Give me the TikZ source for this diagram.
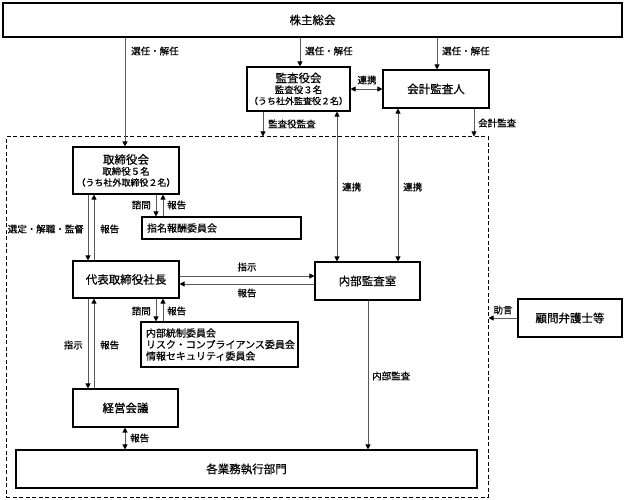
\documentclass[tikz,border=0pt]{standalone}
\usepackage{fontspec}
\setmainfont[FakeBold=0.6]{Noto Sans CJK JP}
\usetikzlibrary{arrows.meta}
\begin{document}
\begin{tikzpicture}[x=1pt,y=-1pt,
  box/.style={draw=black,line width=1.1pt,inner sep=0pt,align=center,font=\fontsize{11.5}{13}\selectfont},
  lbox/.style={draw=black,line width=1.1pt,inner xsep=5pt,inner ysep=0pt,align=left,font=\fontsize{10}{11.5}\selectfont},
  lbl/.style={inner sep=0pt,font=\fontsize{9.5}{11}\selectfont},
  conn/.style={draw=black!65,line width=0.8pt},
  arr/.style={conn,-{Triangle[length=5pt,width=5pt,color=black]}},
  darr/.style={conn,{Triangle[length=5pt,width=5pt,color=black]}-{Triangle[length=5pt,width=5pt,color=black]}},
  execbox/.style={draw=black,line width=1pt,dash pattern=on 4pt off 2.5pt,inner sep=0pt}
]
\useasboundingbox (0,0) rectangle (625,500);

% x positions of vertical connectors
\coordinate (c88) at (88,0);
\coordinate (c94) at (94,0);
\coordinate (c125) at (125,0);
\coordinate (c156) at (156,0);
\coordinate (c163) at (163,0);
\coordinate (c263) at (263,0);
\coordinate (c300) at (300,0);
\coordinate (c337) at (337,0);
\coordinate (c368) at (368,0);
\coordinate (c398) at (398,0);
\coordinate (c437) at (437,0);
\coordinate (c474) at (474,0);
% y positions of horizontal connectors
\coordinate (r276) at (0,276);
\coordinate (r284) at (0,284);

% dashed executive area
\node[execbox,minimum width=482pt,minimum height=360pt] (exec) at (247,317) {};

% boxes
\node[box,minimum width=619pt,minimum height=34pt] (sh) at (312.5,20) {株主総会};
\node[box,minimum width=103pt,minimum height=44pt] (kansa) at (298.5,89)
  {監査役会\\[-2pt]{\fontsize{9.5}{10.5}\selectfont 監査役３名}\\[-2pt]{\fontsize{9}{10.5}\selectfont （うち社外監査役２名）}};
\node[box,minimum width=106pt,minimum height=38pt] (kaikei) at (436,89) {会計監査人};
\node[box,minimum width=106pt,minimum height=47pt] (tori) at (126,170.5)
  {取締役会\\[-2pt]{\fontsize{9.5}{10.5}\selectfont 取締役５名}\\[-2pt]{\fontsize{9}{10.5}\selectfont （うち社外取締役２名）}};
\node[lbox,text width=149pt,minimum height=22pt] (shimei) at (221.5,228) {指名報酬委員会};
\node[box,minimum width=106pt,minimum height=37pt] (daihyo) at (126,279.5) {代表取締役社長};
\node[box,minimum width=105pt,minimum height=38pt] (naibu) at (367.5,281) {内部監査室};
\node[lbox,text width=147pt,minimum height=45pt] (ctrl) at (219.5,344.5)
  {内部統制委員会\\リスク・コンプライアンス委員会\\情報セキュリティ委員会};
\node[box,minimum width=105pt,minimum height=38pt] (keiei) at (125.5,408) {経営会議};
\node[box,minimum width=461pt,minimum height=38pt] (gyomu) at (246.5,469) {各業務執行部門};
\node[box,minimum width=104pt,minimum height=38pt] (komon) at (570,318) {顧問弁護士等};

% connectors
\draw[arr] (sh.south -| c125) -- (tori.north -| c125);
\draw[arr] (sh.south -| c300) -- (kansa.north -| c300);
\draw[arr] (sh.south -| c437) -- (kaikei.north -| c437);
\draw[darr] (kansa.east) -- (kaikei.west |- kansa.east);
\draw[arr] (kansa.south -| c263) -- (exec.north -| c263);
\draw[arr] (kaikei.south -| c474) -- (exec.north -| c474);
\draw[darr] (kansa.south -| c337) -- (naibu.north -| c337);
\draw[darr] (kaikei.south -| c398) -- (naibu.north -| c398);
\draw[arr] (tori.south -| c88) -- (daihyo.north -| c88);
\draw[arr] (daihyo.north -| c94) -- (tori.south -| c94);
\draw[arr] (tori.south -| c156) -- (shimei.north -| c156);
\draw[arr] (shimei.north -| c163) -- (tori.south -| c163);
\draw[arr] (daihyo.east |- r276) -- (naibu.west |- r276);
\draw[arr] (naibu.west |- r284) -- (daihyo.east |- r284);
\draw[arr] (daihyo.south -| c156) -- (ctrl.north -| c156);
\draw[arr] (ctrl.north -| c163) -- (daihyo.south -| c163);
\draw[arr] (daihyo.south -| c88) -- (keiei.north -| c88);
\draw[arr] (keiei.north -| c94) -- (daihyo.south -| c94);
\draw[darr] (keiei.south -| c125) -- (gyomu.north -| c125);
\draw[arr] (naibu.south -| c368) -- (gyomu.north -| c368);
\draw[arr] (komon.west) -- (exec.east |- komon.west);

% labels
\node[lbl,anchor=west] (l1) at (131,51) {選任・解任};
\node[lbl,anchor=west] (l2) at (305,51) {選任・解任};
\node[lbl,anchor=west] (l3) at (442,51) {選任・解任};
\node[lbl] (l4) at (367,80) {連携};
\node[lbl,anchor=west] (l5) at (268,124) {監査役監査};
\node[lbl,anchor=west] (l6) at (478,123) {会計監査};
\node[lbl,anchor=west] (l7) at (342,187) {連携};
\node[lbl,anchor=west] (l8) at (403,187) {連携};
\node[lbl,anchor=east] (l9) at (84,229) {選定・解職・監督};
\node[lbl,anchor=west] (l10) at (100,229) {報告};
\node[lbl,anchor=east] (l11) at (151,205) {諮問};
\node[lbl,anchor=west] (l12) at (167,205) {報告};
\node[lbl] (l13) at (247,267) {指示};
\node[lbl] (l14) at (247,293) {報告};
\node[lbl,anchor=east] (l15) at (151,311) {諮問};
\node[lbl,anchor=west] (l16) at (167,311) {報告};
\node[lbl,anchor=east] (l17) at (83,345) {指示};
\node[lbl,anchor=west] (l18) at (100,345) {報告};
\node[lbl,anchor=west] (l19) at (130,438) {報告};
\node[lbl,anchor=west] (l20) at (372,376) {内部監査};
\node[lbl] (l21) at (503,310) {助言};
\end{tikzpicture}
\end{document}
